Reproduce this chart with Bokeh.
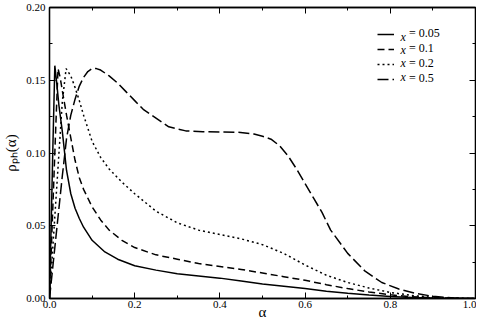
from bokeh.plotting import figure
from bokeh.models import Range1d, LinearAxis, FixedTicker, Legend, LegendItem, Label
from bokeh.embed import file_html
from bokeh.resources import INLINE

# ---- tick data ----
x_ticks = [0.0, 0.2, 0.4, 0.6, 0.8, 1.0]
x_tick_labels = ["0.0", "0.2", "0.4", "0.6", "0.8", "1.0"]
x_minor_ticks = [0.1, 0.3, 0.5, 0.7, 0.9]
y_ticks = [0.0, 0.05, 0.10, 0.15, 0.20]
y_tick_labels = ["0.00", "0.05", "0.10", "0.15", "0.20"]
y_minor_ticks = [0.025, 0.075, 0.125, 0.175]

x_title = "α"
y_title = "ρₚₕ(α)"

# ---- series data ----
series_names = ["0.05", "0.1", "0.2", "0.5"]

alpha_x005 = [0, 0.004, 0.008, 0.0125, 0.017, 0.022, 0.03, 0.04, 0.05, 0.06, 0.07, 0.08,
              0.1, 0.13, 0.16, 0.2, 0.25, 0.3, 0.35, 0.4, 0.45, 0.5, 0.55, 0.6, 0.65,
              0.7, 0.75, 0.8, 0.85, 0.9, 0.95, 1.0]
rho_x005 = [0, 0.052, 0.105, 0.160, 0.148, 0.133, 0.115, 0.088, 0.072, 0.062, 0.055, 0.049,
            0.040, 0.032, 0.027, 0.0225, 0.0195, 0.017, 0.0155, 0.014, 0.012, 0.010, 0.0085,
            0.0068, 0.0050, 0.0036, 0.0024, 0.0014, 0.0007, 0.0003, 0.0001, 0]

alpha_x01 = [0, 0.005, 0.01, 0.015, 0.02, 0.025, 0.03, 0.04, 0.047, 0.06, 0.07, 0.08, 0.1,
             0.12, 0.14, 0.17, 0.2, 0.25, 0.3, 0.35, 0.4, 0.45, 0.5, 0.55, 0.6, 0.65, 0.7,
             0.75, 0.8, 0.85, 0.9, 0.95, 1.0]
rho_x01 = [0, 0.040, 0.080, 0.120, 0.158, 0.152, 0.143, 0.126, 0.115, 0.095, 0.083, 0.075,
           0.063, 0.054, 0.047, 0.040, 0.035, 0.030, 0.027, 0.024, 0.022, 0.020, 0.0175,
           0.015, 0.0125, 0.0095, 0.0068, 0.0045, 0.0025, 0.0012, 0.0005, 0.0002, 0]

alpha_x02 = [0, 0.01, 0.02, 0.03, 0.039, 0.05, 0.06, 0.07, 0.08, 0.09, 0.1, 0.12, 0.14, 0.17,
             0.2, 0.25, 0.3, 0.35, 0.4, 0.45, 0.5, 0.55, 0.6, 0.65, 0.7, 0.75, 0.8, 0.85,
             0.9, 0.95, 1.0]
rho_x02 = [0, 0.045, 0.090, 0.135, 0.158, 0.153, 0.145, 0.136, 0.126, 0.117, 0.108, 0.097,
           0.089, 0.080, 0.072, 0.060, 0.052, 0.047, 0.044, 0.041, 0.037, 0.031, 0.023,
           0.016, 0.011, 0.0072, 0.0042, 0.0021, 0.0008, 0.0002, 0]

alpha_x05 = [0, 0.01, 0.02, 0.03, 0.04, 0.05, 0.06, 0.07, 0.08, 0.09, 0.1, 0.11, 0.12, 0.14,
             0.16, 0.18, 0.2, 0.22, 0.25, 0.28, 0.32, 0.36, 0.4, 0.44, 0.48, 0.5, 0.52, 0.54,
             0.56, 0.58, 0.6, 0.62, 0.64, 0.66, 0.7, 0.74, 0.78, 0.82, 0.86, 0.9, 0.95, 1.0]
rho_x05 = [0, 0.028, 0.056, 0.084, 0.110, 0.126, 0.137, 0.146, 0.152, 0.156, 0.158, 0.158,
           0.157, 0.153, 0.148, 0.142, 0.136, 0.130, 0.124, 0.118, 0.1152, 0.1146, 0.1145,
           0.1143, 0.113, 0.1115, 0.1095, 0.105, 0.098, 0.089, 0.079, 0.069, 0.059, 0.047,
           0.031, 0.019, 0.011, 0.0065, 0.0035, 0.0015, 0.0004, 0]

FONT = "Liberation Serif"

p = figure(width=476, height=322, output_backend="svg", toolbar_location=None,
           x_range=Range1d(0, 1), y_range=Range1d(0, 0.2),
           min_border_left=47, min_border_right=1, min_border_top=7, min_border_bottom=22,
           background_fill_color="white", border_fill_color="white")
p.grid.visible = False
p.outline_line_color = "black"
p.outline_line_width = 1.3


def style_axis(ax, ticks, minor, labels, show_labels):
    ax.ticker = FixedTicker(ticks=ticks, minor_ticks=minor)
    ax.major_tick_in = 6
    ax.major_tick_out = 0
    ax.minor_tick_in = 3
    ax.minor_tick_out = 0
    ax.axis_line_color = "black"
    ax.axis_line_width = 1.3
    ax.major_tick_line_color = "black"
    ax.minor_tick_line_color = "black"
    ax.major_tick_line_width = 1
    ax.minor_tick_line_width = 1
    if show_labels:
        ax.major_label_overrides = {t: l for t, l in zip(ticks, labels)}
        ax.major_label_text_font = FONT
        ax.major_label_text_font_size = "11px"
        ax.major_label_text_color = "black"
    else:
        ax.major_label_overrides = {t: "" for t in ticks}
        ax.major_label_text_font_size = "1px"
        ax.major_label_standoff = 0
        ax.axis_label_standoff = 0


style_axis(p.xaxis[0], x_ticks, x_minor_ticks, x_tick_labels, True)
p.xaxis[0].major_label_standoff = 2
p.xaxis[0].axis_label = x_title
p.xaxis[0].axis_label_text_font = FONT
p.xaxis[0].axis_label_text_font_size = "15px"
p.xaxis[0].axis_label_text_font_style = "normal"
p.xaxis[0].axis_label_text_color = "black"
p.xaxis[0].axis_label_standoff = -7

style_axis(p.yaxis[0], y_ticks, y_minor_ticks, y_tick_labels, True)
p.yaxis[0].major_label_standoff = 4
p.yaxis[0].axis_label = y_title
p.yaxis[0].axis_label_text_font = FONT
p.yaxis[0].axis_label_text_font_size = "15px"
p.yaxis[0].axis_label_text_font_style = "normal"
p.yaxis[0].axis_label_text_color = "black"
p.yaxis[0].axis_label_standoff = 4

top_ax = LinearAxis()
style_axis(top_ax, x_ticks, x_minor_ticks, x_tick_labels, False)
p.add_layout(top_ax, "above")
right_ax = LinearAxis()
style_axis(right_ax, y_ticks, y_minor_ticks, y_tick_labels, False)
p.add_layout(right_ax, "right")

r1 = p.line(alpha_x005, rho_x005, line_color="black", line_width=1.5)
r2 = p.line(alpha_x01, rho_x01, line_color="black", line_width=1.5, line_dash="7 4")
r3 = p.line(alpha_x02, rho_x02, line_color="black", line_width=1.5, line_dash="2 3")
r4 = p.line(alpha_x05, rho_x05, line_color="black", line_width=1.5, line_dash="11 4")

legend = Legend(items=[LegendItem(label="= " + n, renderers=[r]) for n, r in
                       zip(series_names, [r1, r2, r3, r4])],
                location=(328, 212), border_line_color=None, background_fill_alpha=0,
                padding=0, margin=0, spacing=-3, glyph_width=17, glyph_height=10,
                label_height=10, label_standoff=15,
                label_text_font=FONT, label_text_font_size="12px",
                label_text_color="black")
p.add_layout(legend)

# italic "x" in front of each legend label
for i in range(4):
    p.add_layout(Label(x=351, y=261.9 - 13.3 * i, x_units="screen", y_units="screen",
                       text="x", text_font=FONT, text_font_style="italic",
                       text_font_size="12px", text_baseline="middle", text_align="left",
                       text_color="black"))

open("out.html", "w").write(file_html(p, INLINE))
